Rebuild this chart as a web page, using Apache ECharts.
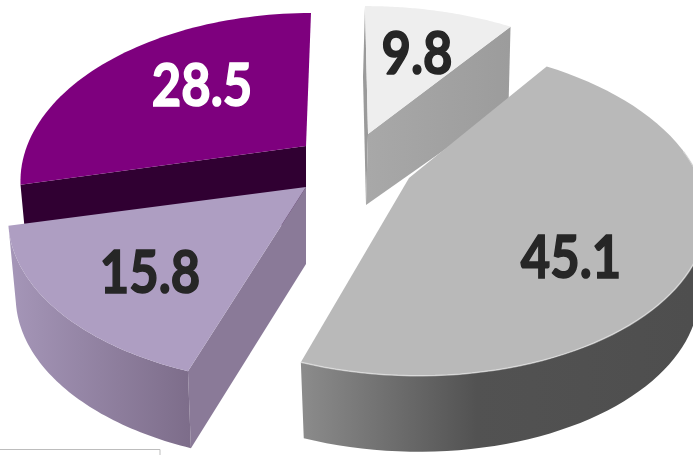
<!DOCTYPE html>
<html>
<head>
<meta charset="utf-8">
<script src="https://cdn.jsdelivr.net/npm/echarts@6/dist/echarts.min.js"></script>
<style>html,body{margin:0;padding:0;background:#fff}#c{width:693px;height:455px}</style>
</head>
<body>
<div id="c"></div>
<script>
// Slice values, clockwise from 12 o'clock
const sliceLabels = ['9.8', '45.1', '15.8', '28.5'];
const sliceValues = [9.8, 45.1, 15.8, 28.5];

const TOTAL = sliceValues.reduce((a, b) => a + b, 0);
const PERSP = 0.196;
const looks = [
  { z: 3, ax: 368, ay: 134, rx: 289, ry: 153, tilt: -3, depth: 71, ddx: -2, shrink: 1, endExtra: 7,
    face: '#eeeeee', cutEnd: ['#a8a8a8', '#9c9c9c'], cutStart: '#9a9a9a', ink: '#262626', lx: 417, ly: 55 },
  { z: 4, ax: 409, ay: 178, rx: 290, ry: 159, tilt: -9.6, depth: 76, ddx: 0, shrink: 0.975,
    face: '#b9b9b9', rimFrom: 80, rim: [[0, '#8c8c8c'], [0.45, '#525252'], [1, '#4e4e4e']], rimX: [300, 693],
    edge: 'rgba(235,235,235,0.6)', ink: '#262626', lx: 571, ly: 259 },
  { z: 2, ax: 306, ay: 187, rx: 292, ry: 159, tilt: 0, depth: 77, ddx: 0, shrink: 0.975,
    face: '#ae9ec2', rim: [[0, '#a596b8'], [1, '#7d6d8a']], rimX: [10, 190], cutStart: '#8a7a98',
    ink: '#262626', lx: 150, ly: 274 },
  { z: 1, ax: 306, ay: 146, rx: 279, ry: 159, tilt: 5, depth: 76, ddx: 0, shrink: 0.975,
    face: '#7e007e', cutStart: '#300032', ink: '#ffffff', lx: 202, ly: 87 }
];

function pt(look, deg, drop) {
  const t = deg * Math.PI / 180, u = Math.sin(t), v = Math.cos(t), den = 1 + PERSP * v;
  const shrink = drop ? look.shrink : 1;
  return [look.ax + (drop ? look.ddx : 0) + shrink * look.rx * u / den + look.tilt * v,
          look.ay - look.ry * v / den + (drop || 0)];
}
function arc(look, a, b, drop) {
  const out = [], n = 60;
  for (let i = 0; i <= n; i++) out.push(pt(look, a + (b - a) * i / n, drop));
  return out;
}
function apex(look, drop) {
  return [look.ax + (drop ? look.ddx : 0), look.ay + (drop || 0)];
}
function quad(look, deg, fill, z2, extra) {
  const d = look.depth;
  return { type: 'polygon', z2: z2,
    shape: { points: [apex(look, 0), pt(look, deg, 0), pt(look, deg, d + (extra || 0)), apex(look, d)] },
    style: { fill: fill } };
}

function renderItem(params, api) {
  const i = params.dataIndex;
  const look = looks[i];
  let start = 0;
  for (let k = 0; k < i; k++) start += sliceValues[k];
  const a = start / TOTAL * 360, b = (start + api.value(0)) / TOTAL * 360;
  const base = look.z * 10, kids = [];

  if (look.cutStart) kids.push(quad(look, a, look.cutStart, base));
  if (look.cutEnd) {
    kids.push(quad(look, b, { type: 'linear', x: 368, y: 0, x2: 510, y2: 0, global: true,
      colorStops: [{ offset: 0, color: look.cutEnd[0] }, { offset: 1, color: look.cutEnd[1] }] }, base + 1, look.endExtra));
  }
  if (look.rim) {
    const from = look.rimFrom !== undefined ? look.rimFrom : a;
    const top = arc(look, from, b, 0), bot = arc(look, b, from, look.depth);
    kids.push({ type: 'polygon', z2: base + 1, shape: { points: top.concat(bot) },
      style: { fill: { type: 'linear', x: look.rimX[0], y: 0, x2: look.rimX[1], y2: 0, global: true,
        colorStops: look.rim.map(s => ({ offset: s[0], color: s[1] })) } } });
  }
  kids.push({ type: 'polygon', z2: base + 2,
    shape: { points: [apex(look, 0)].concat(arc(look, a, b, 0)) },
    style: { fill: look.face } });
  if (look.edge) {
    kids.push({ type: 'polyline', z2: base + 3, shape: { points: arc(look, look.rimFrom, b, 0) },
      style: { stroke: look.edge, lineWidth: 1.5, fill: 'none' } });
  }
  kids.push({ type: 'text', z2: 100, x: look.lx, y: look.ly, scaleX: 0.86,
    style: { text: sliceLabels[i], x: 0, y: 0, align: 'center', verticalAlign: 'middle',
      fill: look.ink, stroke: look.ink, lineWidth: 1.6,
      font: 'bold 59px Lato, "Liberation Sans", sans-serif' } });
  return { type: 'group', children: kids };
}

const chart = echarts.init(document.getElementById('c'), null, { renderer: 'canvas' });
chart.setOption({
  animation: false,
  backgroundColor: '#ffffff',
  series: [{
    type: 'custom',
    coordinateSystem: 'none',
    silent: true,
    clip: false,
    renderItem: renderItem,
    data: sliceValues.map(v => [v])
  }],
  graphic: [{
    type: 'rect', z: -1,
    shape: { x: -3, y: 449.5, width: 163, height: 20 },
    style: { fill: '#ffffff', stroke: '#bdbdbd', lineWidth: 1 }
  }]
});
</script>
</body>
</html>
